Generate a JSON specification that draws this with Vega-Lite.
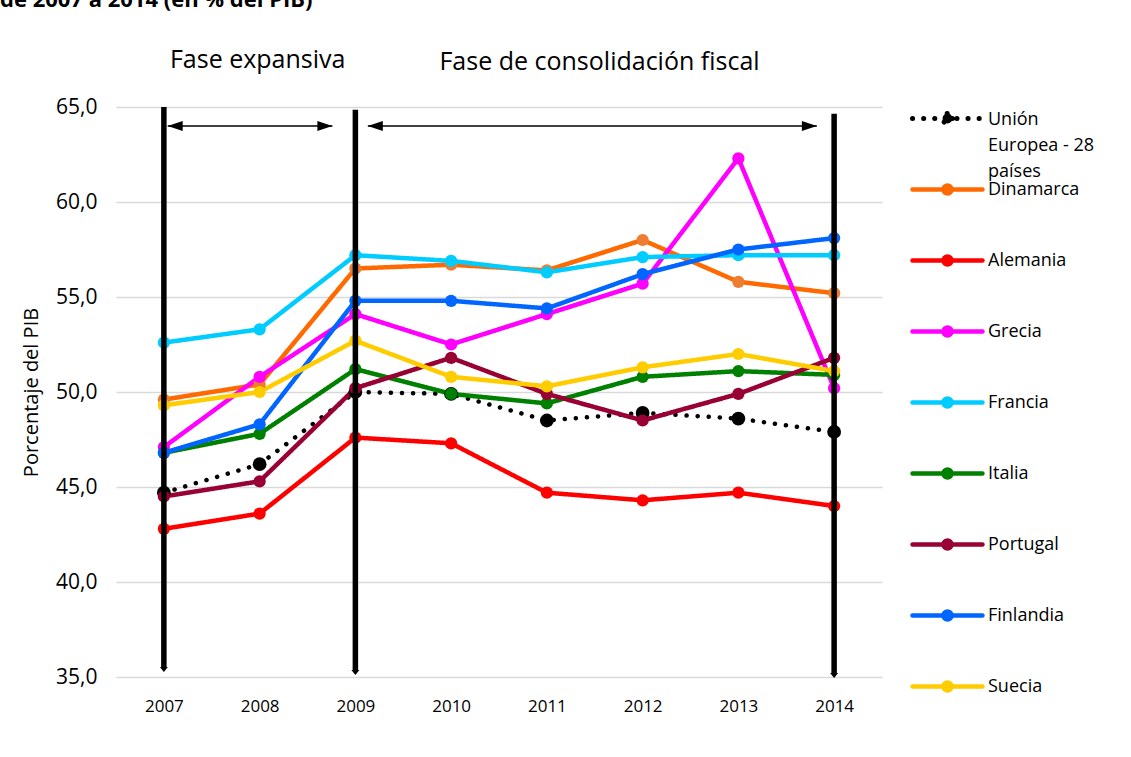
{
  "$schema": "https://vega.github.io/schema/vega-lite/v6.json",
  "width": 766,
  "height": 570,
  "autosize": {"type": "none"},
  "padding": {"left": 116, "top": 107, "right": 249, "bottom": 80},
  "background": "white",
  "config": {"view": {"stroke": null}, "font": "Open Sans"},
  "title": {"text": "de 2007 a 2014 (en % del PIB)", "anchor": "start", "frame": "group", "dx": -116, "offset": 36, "fontSize": 22, "fontWeight": "bold", "color": "black", "font": "Open Sans"},
  "datasets": {
    "main": [
      {"country": "Unión Europea - 28 países", "year": 2007, "value": 44.7},
      {"country": "Unión Europea - 28 países", "year": 2008, "value": 46.2},
      {"country": "Unión Europea - 28 países", "year": 2009, "value": 50.0},
      {"country": "Unión Europea - 28 países", "year": 2010, "value": 49.9},
      {"country": "Unión Europea - 28 países", "year": 2011, "value": 48.5},
      {"country": "Unión Europea - 28 países", "year": 2012, "value": 48.9},
      {"country": "Unión Europea - 28 países", "year": 2013, "value": 48.6},
      {"country": "Unión Europea - 28 países", "year": 2014, "value": 47.9},
      {"country": "Dinamarca", "year": 2007, "value": 49.6},
      {"country": "Dinamarca", "year": 2008, "value": 50.4},
      {"country": "Dinamarca", "year": 2009, "value": 56.5},
      {"country": "Dinamarca", "year": 2010, "value": 56.7},
      {"country": "Dinamarca", "year": 2011, "value": 56.4},
      {"country": "Dinamarca", "year": 2012, "value": 58.0},
      {"country": "Dinamarca", "year": 2013, "value": 55.8},
      {"country": "Dinamarca", "year": 2014, "value": 55.2},
      {"country": "Alemania", "year": 2007, "value": 42.8},
      {"country": "Alemania", "year": 2008, "value": 43.6},
      {"country": "Alemania", "year": 2009, "value": 47.6},
      {"country": "Alemania", "year": 2010, "value": 47.3},
      {"country": "Alemania", "year": 2011, "value": 44.7},
      {"country": "Alemania", "year": 2012, "value": 44.3},
      {"country": "Alemania", "year": 2013, "value": 44.7},
      {"country": "Alemania", "year": 2014, "value": 44.0},
      {"country": "Grecia", "year": 2007, "value": 47.1},
      {"country": "Grecia", "year": 2008, "value": 50.8},
      {"country": "Grecia", "year": 2009, "value": 54.1},
      {"country": "Grecia", "year": 2010, "value": 52.5},
      {"country": "Grecia", "year": 2011, "value": 54.1},
      {"country": "Grecia", "year": 2012, "value": 55.7},
      {"country": "Grecia", "year": 2013, "value": 62.3},
      {"country": "Grecia", "year": 2014, "value": 50.2},
      {"country": "Francia", "year": 2007, "value": 52.6},
      {"country": "Francia", "year": 2008, "value": 53.3},
      {"country": "Francia", "year": 2009, "value": 57.2},
      {"country": "Francia", "year": 2010, "value": 56.9},
      {"country": "Francia", "year": 2011, "value": 56.3},
      {"country": "Francia", "year": 2012, "value": 57.1},
      {"country": "Francia", "year": 2013, "value": 57.2},
      {"country": "Francia", "year": 2014, "value": 57.2},
      {"country": "Italia", "year": 2007, "value": 46.8},
      {"country": "Italia", "year": 2008, "value": 47.8},
      {"country": "Italia", "year": 2009, "value": 51.2},
      {"country": "Italia", "year": 2010, "value": 49.9},
      {"country": "Italia", "year": 2011, "value": 49.4},
      {"country": "Italia", "year": 2012, "value": 50.8},
      {"country": "Italia", "year": 2013, "value": 51.1},
      {"country": "Italia", "year": 2014, "value": 50.9},
      {"country": "Portugal", "year": 2007, "value": 44.5},
      {"country": "Portugal", "year": 2008, "value": 45.3},
      {"country": "Portugal", "year": 2009, "value": 50.2},
      {"country": "Portugal", "year": 2010, "value": 51.8},
      {"country": "Portugal", "year": 2011, "value": 49.9},
      {"country": "Portugal", "year": 2012, "value": 48.5},
      {"country": "Portugal", "year": 2013, "value": 49.9},
      {"country": "Portugal", "year": 2014, "value": 51.8},
      {"country": "Finlandia", "year": 2007, "value": 46.8},
      {"country": "Finlandia", "year": 2008, "value": 48.3},
      {"country": "Finlandia", "year": 2009, "value": 54.8},
      {"country": "Finlandia", "year": 2010, "value": 54.8},
      {"country": "Finlandia", "year": 2011, "value": 54.4},
      {"country": "Finlandia", "year": 2012, "value": 56.2},
      {"country": "Finlandia", "year": 2013, "value": 57.5},
      {"country": "Finlandia", "year": 2014, "value": 58.1},
      {"country": "Suecia", "year": 2007, "value": 49.3},
      {"country": "Suecia", "year": 2008, "value": 50.0},
      {"country": "Suecia", "year": 2009, "value": 52.7},
      {"country": "Suecia", "year": 2010, "value": 50.8},
      {"country": "Suecia", "year": 2011, "value": 50.3},
      {"country": "Suecia", "year": 2012, "value": 51.3},
      {"country": "Suecia", "year": 2013, "value": 52.0},
      {"country": "Suecia", "year": 2014, "value": 51.1}
    ],
    "vlines": [
      {"year": 2007, "top": 65.0, "bottom": 35.53},
      {"year": 2009, "top": 64.85, "bottom": 35.37},
      {"year": 2014, "top": 64.65, "bottom": 35.21}
    ],
    "harrows": [
      {"start": 2007.04, "end": 2008.76, "level": 64.0},
      {"start": 2009.13, "end": 2013.82, "level": 64.0}
    ],
    "heads": [
      {"year": 2007.04, "level": 64.0, "dir": "left"},
      {"year": 2008.76, "level": 64.0, "dir": "right"},
      {"year": 2009.13, "level": 64.0, "dir": "left"},
      {"year": 2013.82, "level": 64.0, "dir": "right"},
      {"year": 2007, "level": 35.26, "dir": "down"},
      {"year": 2009, "level": 35.1, "dir": "down"},
      {"year": 2014, "level": 34.95, "dir": "down"}
    ],
    "phases": [
      {"year": 2007.98, "level": 67.04, "label": "Fase expansiva"},
      {"year": 2011.55, "level": 66.95, "label": "Fase de consolidación fiscal"}
    ]
  },
  "layer": [
    {
      "data": {"name": "main"},
      "mark": {"type": "line", "strokeWidth": 4.5, "strokeCap": "round", "strokeJoin": "round"},
      "encoding": {
        "x": {"field": "year", "type": "quantitative", "title": null,
              "scale": {"domain": [2006.5, 2014.5], "nice": false, "zero": false},
              "axis": {"values": [2007, 2008, 2009, 2010, 2011, 2012, 2013, 2014], "format": "d", "grid": false, "ticks": false, "domain": false, "labelFontSize": 17, "labelFont": "Open Sans", "labelColor": "black", "labelPadding": 21, "labelFlush": false}},
        "y": {"field": "value", "type": "quantitative", "title": "Porcentaje del PIB",
              "scale": {"domain": [35, 65], "nice": false, "zero": false},
              "axis": {"values": [35, 40, 45, 50, 55, 60, 65], "labelExpr": "replace(format(datum.value, '.1f'), '.', ',')", "grid": true, "gridColor": "#d9d9d9", "gridWidth": 1.5, "ticks": false, "domain": false, "labelFontSize": 21, "labelFont": "Open Sans", "labelColor": "black", "labelPadding": 19, "titleFontSize": 20, "titleFont": "Open Sans", "titleFontWeight": "normal", "titleColor": "black", "titlePadding": 14}},
        "color": {"field": "country", "type": "nominal",
                  "scale": {"domain": ["Unión Europea - 28 países", "Dinamarca", "Alemania", "Grecia", "Francia", "Italia", "Portugal", "Finlandia", "Suecia"],
                            "range": ["#000000", "#FF6A00", "#FF0000", "#FF00FF", "#00CCFF", "#008000", "#990033", "#0066FF", "#FFCC00"]},
                  "legend": {"orient": "none", "legendX": 794, "legendY": 45, "title": null, "padding": 0, "rowPadding": 20,
                             "values": ["Dinamarca", "Alemania", "Grecia", "Francia", "Italia", "Portugal", "Finlandia", "Suecia"],
                             "symbolType": "M-1,0H1M0.114,0A0.114,0.114 0 1,1 -0.114,0A0.114,0.114 0 1,1 0.114,0Z",
                             "symbolSize": 4900, "symbolStrokeWidth": 4.5, "labelFontSize": 18, "labelFont": "Open Sans", "labelColor": "black", "labelOffset": 3, "labelLimit": 200,
                             "encode": {
                               "symbols": {"update": {"fill": {"scale": "color", "field": "value"}, "stroke": {"scale": "color", "field": "value"}, "strokeCap": {"value": "round"}}}
                             }}},
        "strokeDash": {"field": "country", "type": "nominal",
                       "scale": {"domain": ["Dinamarca", "Alemania", "Grecia", "Francia", "Italia", "Portugal", "Finlandia", "Suecia", "Unión Europea - 28 países"],
                                 "range": [[1, 0], [1, 0], [1, 0], [1, 0], [1, 0], [1, 0], [1, 0], [1, 0], [0.1, 11]]},
                       "legend": {"orient": "none", "legendX": 794, "legendY": -26, "title": null, "padding": 0,
                                  "values": ["Unión Europea - 28 países"],
                                  "symbolType": "M-1,0H1M0.14,0A0.14,0.14 0 1,1 -0.14,0A0.14,0.14 0 1,1 0.14,0Z",
                                  "symbolSize": 4900, "symbolStrokeWidth": 5, "labelFontSize": 18, "labelFont": "Open Sans", "labelColor": "black", "labelOffset": 3, "labelLimit": 200,
                                  "labelExpr": "['Unión', 'Europea - 28', 'países']",
                                  "encode": {
                                    "symbols": {"update": {"fill": {"value": "black"}, "stroke": {"value": "black"}, "strokeWidth": {"value": 5}, "strokeCap": {"value": "round"}, "strokeDash": {"value": [0.1, 11]}, "opacity": {"value": 1}}},
                                    "labels": {"update": {"lineHeight": {"value": 26}, "baseline": {"value": "top"}, "dy": {"value": -8}}}
                                  }}},
        "strokeWidth": {"condition": {"test": "datum.country === 'Unión Europea - 28 países'", "value": 5.5}, "value": 4.5}
      }
    },
    {
      "data": {"name": "main"},
      "mark": {"type": "point", "filled": true, "opacity": 1, "strokeWidth": 0},
      "encoding": {
        "x": {"field": "year", "type": "quantitative", "title": null},
        "y": {"field": "value", "type": "quantitative", "title": "Porcentaje del PIB"},
        "fill": {"field": "country", "type": "nominal", "legend": null,
                 "scale": {"domain": ["Unión Europea - 28 países", "Dinamarca", "Alemania", "Grecia", "Francia", "Italia", "Portugal", "Finlandia", "Suecia"],
                           "range": ["#000000", "#ED7D31", "#FF0000", "#FF00FF", "#00CCFF", "#008000", "#990033", "#0066FF", "#FFCC00"]}},
        "size": {"condition": {"test": "datum.country === 'Unión Europea - 28 países'", "value": 190}, "value": 150}
      }
    },
    {
      "data": {"name": "harrows"},
      "mark": {"type": "rule", "color": "black", "strokeWidth": 1.5},
      "encoding": {
        "x": {"field": "start", "type": "quantitative", "title": null},
        "x2": {"field": "end"},
        "y": {"field": "level", "type": "quantitative", "title": "Porcentaje del PIB"}
      }
    },
    {
      "data": {"name": "vlines"},
      "mark": {"type": "rule", "color": "black", "strokeWidth": 5.5},
      "encoding": {
        "x": {"field": "year", "type": "quantitative", "title": null},
        "y": {"field": "top", "type": "quantitative", "title": "Porcentaje del PIB"},
        "y2": {"field": "bottom"}
      }
    },
    {
      "data": {"name": "heads"},
      "mark": {"type": "point", "filled": true, "opacity": 1, "color": "black", "strokeWidth": 0, "size": 100},
      "encoding": {
        "x": {"field": "year", "type": "quantitative", "title": null},
        "y": {"field": "level", "type": "quantitative", "title": "Porcentaje del PIB"},
        "shape": {"field": "dir", "type": "nominal", "legend": null,
                  "scale": {"domain": ["left", "right", "down"], "range": ["M0,0L3,-1L3,1Z", "M0,0L-3,-1L-3,1Z", "M0,0L-0.8,-1L0.8,-1Z"]}}
      }
    },
    {
      "data": {"name": "phases"},
      "mark": {"type": "text", "fontSize": 25, "font": "Open Sans", "color": "black", "baseline": "alphabetic", "align": "center"},
      "encoding": {
        "x": {"field": "year", "type": "quantitative", "title": null},
        "y": {"field": "level", "type": "quantitative", "title": "Porcentaje del PIB"},
        "text": {"field": "label"}
      }
    }
  ]
}
